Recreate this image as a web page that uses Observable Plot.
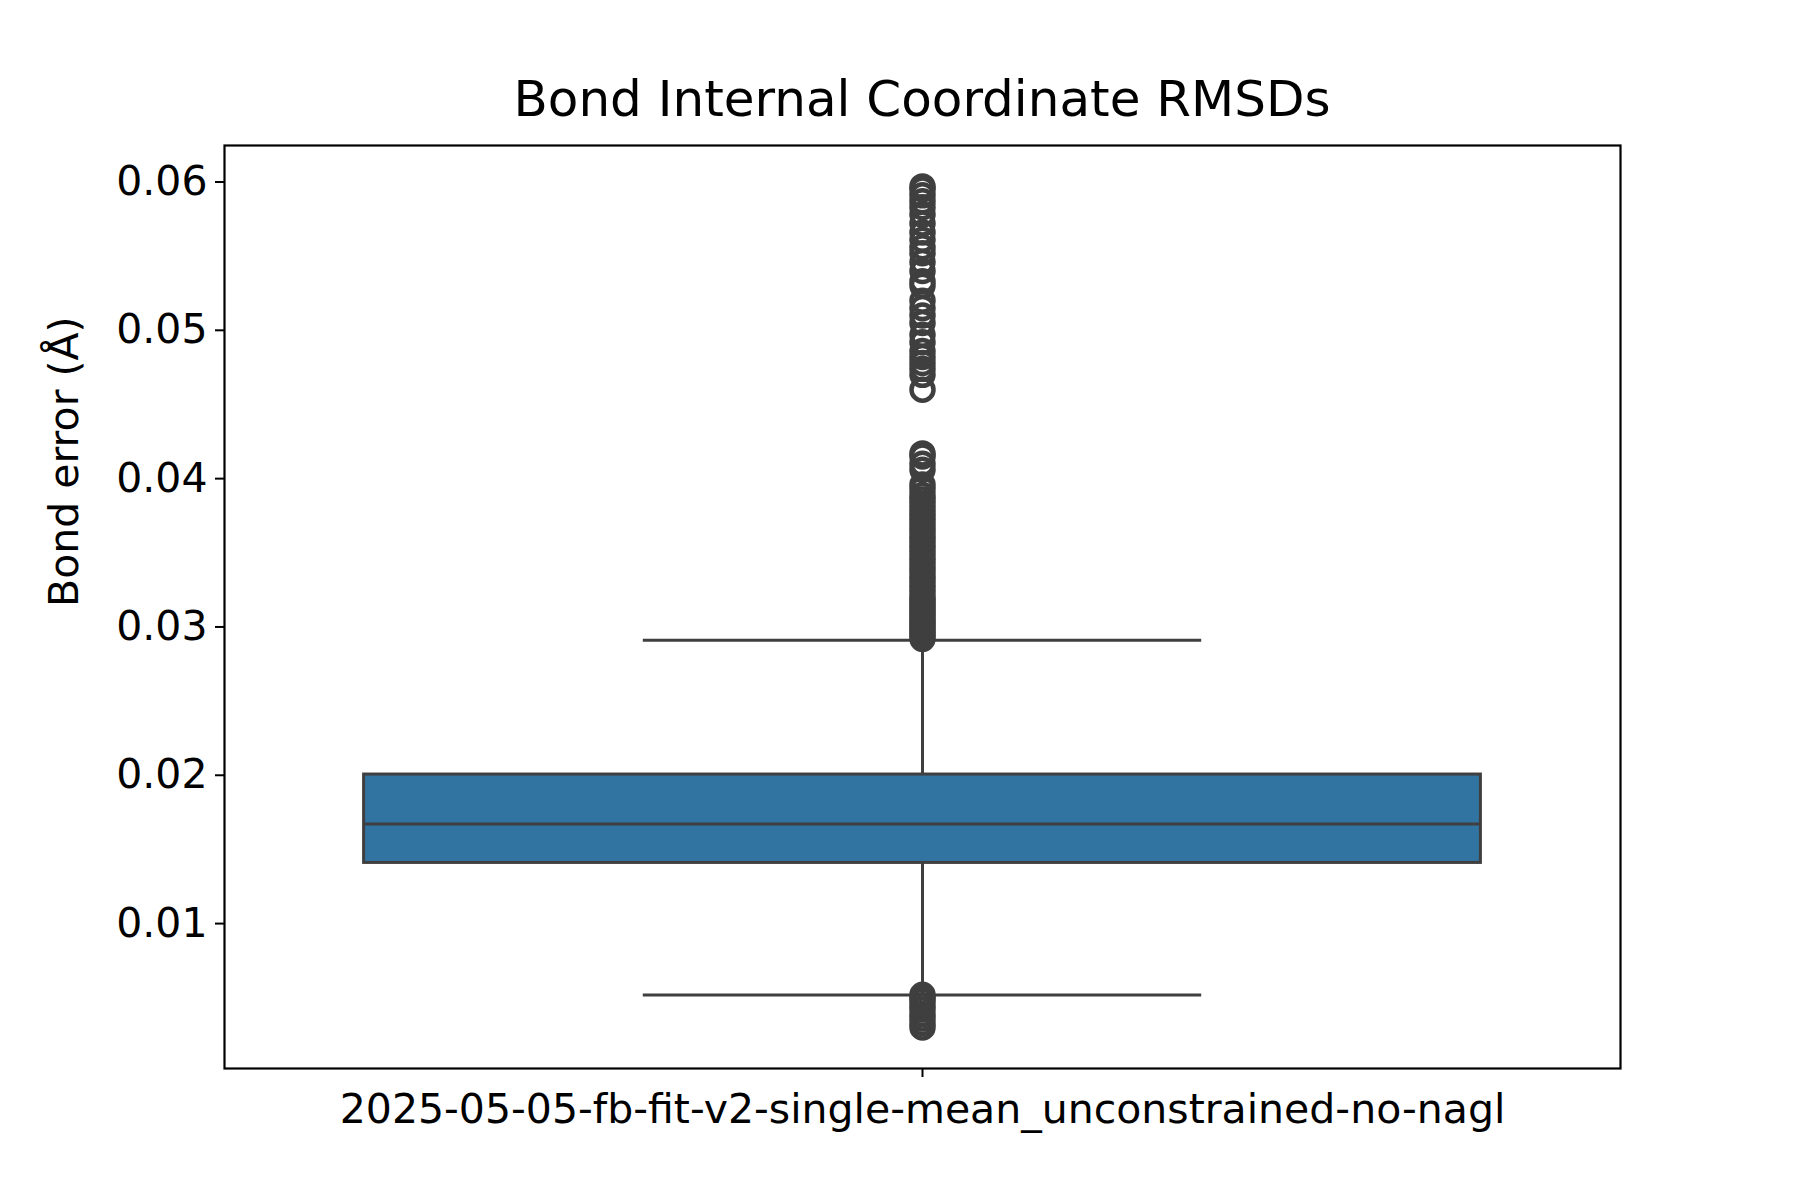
<!DOCTYPE html>
<html>
<head>
<meta charset="utf-8">
<script src="https://cdn.jsdelivr.net/npm/d3@7"></script>
<script src="https://cdn.jsdelivr.net/npm/@observablehq/plot@0.6"></script>
<style>
  body { margin: 0; background: white; font-family: "DejaVu Sans", sans-serif; }
  #title { width: 1800px; height: 143px; position: relative; }
  #title span { position: absolute; left: 224px; width: 1396px; text-align: center; top: 70px; font-size: 50px; color: #000; }
</style>
</head>
<body>
<div id="title"><span>Bond Internal Coordinate RMSDs</span></div>
<div id="chart"></div>
<script>
const category = "2025-05-05-fb-fit-v2-single-mean_unconstrained-no-nagl";
// box summary (Å)
const q1 = 0.01409, median = 0.01672, q3 = 0.02005;
const whiskerLow = 0.00519, whiskerHigh = 0.0291;
const outliersHigh = [
  0.0292, 0.0294, 0.0296, 0.0298, 0.0300, 0.0302, 0.0304, 0.0306, 0.0308, 0.0310,
  0.0312, 0.0314, 0.0316, 0.0318, 0.0320, 0.0323, 0.0326, 0.0329, 0.0332, 0.0335,
  0.0338, 0.0341, 0.0344, 0.0347, 0.0350, 0.0353, 0.0356, 0.0359, 0.0362, 0.0365,
  0.0368, 0.0371, 0.0374, 0.0377, 0.0380, 0.0383, 0.0386, 0.0389, 0.0393, 0.0396,
  0.0406, 0.0410, 0.0415, 0.0417,
  0.0460, 0.0470, 0.0474, 0.0478, 0.0482, 0.0486, 0.0492, 0.0497, 0.0505, 0.0510,
  0.0515, 0.0520, 0.0530, 0.0533, 0.0540, 0.0546, 0.0552, 0.0556, 0.0561, 0.0566,
  0.0572, 0.0578, 0.0583, 0.0587, 0.0591, 0.0595, 0.0597
];
const outliersLow = [0.0030, 0.0033, 0.0036, 0.0039, 0.0042, 0.0045, 0.0048, 0.0050, 0.0052];
const yTicks = [0.01, 0.02, 0.03, 0.04, 0.05, 0.06];

const ink = "#3f3f3f";
const outliers = outliersHigh.concat(outliersLow).map(v => ({x: 0, y: v}));

const chart = Plot.plot({
  width: 1800,
  height: 1057,
  marginLeft: 224,
  marginRight: 180,
  marginTop: 2,
  marginBottom: 132,
  style: {fontFamily: "DejaVu Sans, sans-serif", fontSize: "42px", color: "#000", overflow: "visible"},
  x: {domain: [-0.5, 0.5]},
  y: {domain: [0.00023, 0.06246]},
  marks: [
    Plot.frame({stroke: "#000", strokeWidth: 2.2}),
    Plot.axisY({ticks: yTicks, tickFormat: d3.format(".2f"), tickSize: 9, tickPadding: 8, label: null, fontSize: 41, strokeWidth: 2}),
    Plot.text(["Bond error (Å)"], {frameAnchor: "left", dx: -160, rotate: -90, fontSize: 41, fill: "#000"}),
    Plot.axisX({ticks: [0], tickFormat: () => category, tickSize: 9, tickPadding: 16, label: null, fontSize: 41, strokeWidth: 2}),
    Plot.ruleX([0], {y1: whiskerHigh, y2: q3, stroke: ink, strokeWidth: 3}),
    Plot.ruleX([0], {y1: whiskerLow, y2: q1, stroke: ink, strokeWidth: 3}),
    Plot.ruleY([whiskerHigh, whiskerLow], {x1: -0.2, x2: 0.2, stroke: ink, strokeWidth: 3}),
    Plot.rect([{q1, q3}], {x1: -0.4, x2: 0.4, y1: "q1", y2: "q3", fill: "#3274a1", stroke: ink, strokeWidth: 3}),
    Plot.ruleY([median], {x1: -0.4, x2: 0.4, stroke: ink, strokeWidth: 3}),
    Plot.dot(outliers, {x: "x", y: "y", r: 11, stroke: ink, strokeWidth: 4.5, fill: "none"})
  ]
});
document.getElementById("chart").append(chart);
</script>
</body>
</html>
